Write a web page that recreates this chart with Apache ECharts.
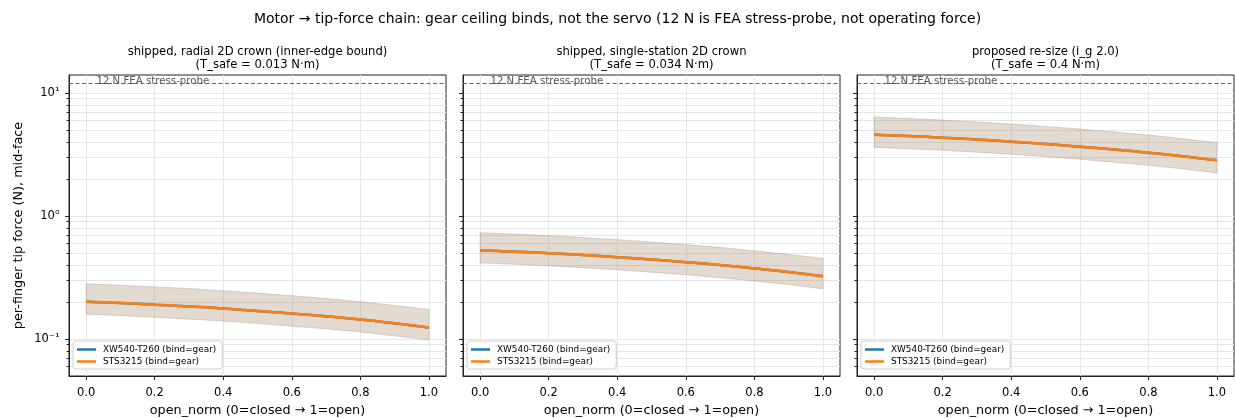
<!DOCTYPE html>
<html><head><meta charset="utf-8">
<script src="https://cdn.jsdelivr.net/npm/echarts@6/dist/echarts.min.js"></script>
<style>html,body{margin:0;padding:0;background:#fff}#c{width:1235px;height:418px}</style>
</head><body><div id="c"></div>
<script>
const xs = [0.0,0.1,0.2,0.3,0.4,0.5,0.6,0.7,0.8,0.9,1.0];
const xTicks = [0.0,0.2,0.4,0.6,0.8,1.0];
const yMajor = [0.1,1,10];
const yMinor = [0.06,0.07,0.08,0.09,0.1,0.2,0.3,0.4,0.5,0.6,0.7,0.8,0.9,1,2,3,4,5,6,7,8,9,10];
const panelTitles = [
  'shipped, radial 2D crown (inner-edge bound)\n(T_safe = 0.013 N·m)',
  'shipped, single-station 2D crown\n(T_safe = 0.034 N·m)',
  'proposed re-size (i_g 2.0)\n(T_safe = 0.4 N·m)'
];
const seriesNames = ['XW540-T260 (bind=gear)','STS3215 (bind=gear)'];
const probeForce = 12;
const probeLabel = '12 N FEA stress-probe';
// panel 1
const p1Center = [0.201,0.196,0.190,0.184,0.177,0.169,0.161,0.153,0.144,0.134,0.124];
const p1Upper  = [0.281,0.273,0.265,0.257,0.247,0.236,0.225,0.213,0.201,0.187,0.174];
const p1Lower  = [0.159,0.155,0.150,0.145,0.140,0.134,0.127,0.121,0.114,0.106,0.098];
// panel 2
const p2Center = [0.526,0.513,0.498,0.481,0.462,0.442,0.421,0.399,0.375,0.350,0.323];
const p2Upper  = [0.731,0.713,0.692,0.669,0.642,0.614,0.585,0.555,0.521,0.487,0.452];
const p2Lower  = [0.416,0.405,0.393,0.380,0.365,0.349,0.333,0.315,0.296,0.277,0.256];
// panel 3
const p3Center = [4.58,4.46,4.33,4.18,4.02,3.85,3.66,3.47,3.27,3.06,2.84];
const p3Upper  = [6.37,6.20,6.02,5.81,5.59,5.35,5.09,4.82,4.55,4.25,3.95];
const p3Lower  = [3.62,3.52,3.42,3.30,3.18,3.04,2.89,2.74,2.58,2.42,2.24];

const panels = [
  {c:p1Center,u:p1Upper,l:p1Lower},
  {c:p2Center,u:p2Upper,l:p2Lower},
  {c:p3Center,u:p3Upper,l:p3Lower}
];

const FONT = 'DejaVu Sans';
const gridLefts = [69,463,857];
const gridW = 377, gridTop = 75, gridH = 301;
const yMin = 0.05, yMax = 14;

const supMap = {'-':'⁻','0':'⁰','1':'¹','2':'²'};
const grids=[], xAxes=[], yAxes=[], series=[], titles=[], legends=[];
titles.push({text:'Motor → tip-force chain: gear ceiling binds, not the servo (12 N is FEA stress-probe, not operating force)',
  left:'center', top:12, padding:0, textStyle:{fontFamily:FONT,fontSize:14,fontWeight:'normal',color:'#000'}});

panels.forEach((p,i)=>{
  grids.push({left:gridLefts[i], top:gridTop, width:gridW, height:gridH, containLabel:false, outerBoundsMode:'none',
    show:true, borderColor:'#222', borderWidth:1, backgroundColor:'transparent'});
  titles.push({text:panelTitles[i], left:gridLefts[i]+gridW/2, top:45.5, padding:0, textAlign:'center',
    textStyle:{fontFamily:FONT,fontSize:11.6,fontWeight:'normal',color:'#000',lineHeight:13.3}});
  xAxes.push({type:'value', gridIndex:i, min:-0.05, max:1.05, position:'bottom',
    name:'open_norm (0=closed → 1=open)', nameLocation:'middle', nameGap:27.5,
    nameTextStyle:{fontFamily:FONT,fontSize:12.8,color:'#000'},
    axisLine:{show:true,onZero:false,lineStyle:{color:'#222'}},
    axisTick:{show:true,length:4,customValues:xTicks,lineStyle:{color:'#222'}},
    axisLabel:{show:true,customValues:xTicks,fontFamily:FONT,fontSize:11.5,color:'#000',margin:11,formatter:v=>v.toFixed(1)},
    splitLine:{show:true,lineStyle:{color:'#e6e6e6',width:1}}
  });
  // minor axis (ticks + grid lines)
  yAxes.push({type:'log', logBase:10, gridIndex:i, min:yMin, max:yMax, position:'left',
    axisLine:{show:true,onZero:false,lineStyle:{color:'#222'}},
    axisTick:{show:true,length:2.5,customValues:yMinor,lineStyle:{color:'#222'}},
    axisLabel:{show:false},
    splitLine:{show:true,lineStyle:{color:'#e6e6e6',width:1}},
    name: i===0 ? 'per-finger tip force (N), mid-face' : '',
    nameLocation:'middle', nameGap:44, nameRotate:90,
    nameTextStyle:{fontFamily:FONT,fontSize:12.8,color:'#000'}
  });
  // major axis (labels)
  yAxes.push({type:'log', logBase:10, gridIndex:i, min:yMin, max:yMax, position:'left', offset:0,
    axisLine:{show:false,onZero:false},
    axisTick:{show:true,length:4,customValues:yMajor,lineStyle:{color:'#222'}},
    axisLabel:{show:i===0,customValues:yMajor,margin:9.5,
      formatter:v=>{const e=Math.round(Math.log10(v)); return '{b|10}{s|'+String(e).split('').map(ch=>supMap[ch]).join('')+'}';},
      rich:{b:{fontFamily:FONT,fontSize:11.5,color:'#000'},s:{fontFamily:FONT,fontSize:11.5,color:'#000',padding:[0,0,2,0]}}},
    splitLine:{show:false}
  });
  const xi=i, yi=2*i;
  // band
  series.push({type:'custom', xAxisIndex:xi, yAxisIndex:yi, z:1, silent:true,
    data:[0],
    renderItem:(params,api)=>{
      const pts=[];
      for(let k=0;k<xs.length;k++) pts.push(api.coord([xs[k],p.u[k]]));
      for(let k=xs.length-1;k>=0;k--) pts.push(api.coord([xs[k],p.l[k]]));
      return {type:'group',children:[
        {type:'polygon',shape:{points:pts},style:{fill:'rgba(31,119,180,0.15)',stroke:'rgba(31,119,180,0.15)',lineWidth:1}},
        {type:'polygon',shape:{points:pts},style:{fill:'rgba(255,127,14,0.15)',stroke:'rgba(255,127,14,0.15)',lineWidth:1}}
      ]};
    }
  });
  // probe label
  series.push({type:'custom', xAxisIndex:xi, yAxisIndex:yi, z:4, silent:true,
    data:[0],
    renderItem:(params,api)=>{
      const pt=api.coord([0.03,probeForce]);
      return {type:'text',x:pt[0],y:pt[1]+3,style:{text:probeLabel,fontFamily:FONT,fontSize:10.2,fill:'#555',textVerticalAlign:'bottom',textAlign:'left'}};
    }
  });
  series.push({type:'line', name:seriesNames[0], xAxisIndex:xi, yAxisIndex:yi, z:3,
    data:xs.map((x,k)=>[x,p.c[k]]), showSymbol:false, symbol:'none', smooth:true,
    lineStyle:{color:'#1f77b4',width:2.5}, itemStyle:{color:'#1f77b4'},
    markLine:{silent:true,symbol:'none',label:{show:false},
      lineStyle:{color:'#666',type:[4,2.5],width:1.2},data:[{yAxis:probeForce}]}
  });
  series.push({type:'line', name:seriesNames[1], xAxisIndex:xi, yAxisIndex:yi, z:3,
    data:xs.map((x,k)=>[x,p.c[k]]), showSymbol:false, symbol:'none', smooth:true,
    lineStyle:{color:'#ff7f0e',width:2.5}, itemStyle:{color:'#ff7f0e'}
  });
  legends.push({data:seriesNames, left:gridLefts[i]+4, top:341, orient:'vertical',
    backgroundColor:'rgba(255,255,255,0.85)', borderColor:'#d0d0d0', borderWidth:1, borderRadius:3,
    padding:[4,6,3,4], itemGap:3, itemWidth:19, itemHeight:2.5, icon:'rect',
    textStyle:{fontFamily:FONT,fontSize:8.9,color:'#000',padding:[0,0,0,2]}, selectedMode:false});
});

const chart = echarts.init(document.getElementById('c'), null, {renderer:'canvas'});
chart.setOption({animation:false, backgroundColor:'#fff', title:titles, grid:grids, xAxis:xAxes, yAxis:yAxes, series:series, legend:legends});
</script></body></html>
